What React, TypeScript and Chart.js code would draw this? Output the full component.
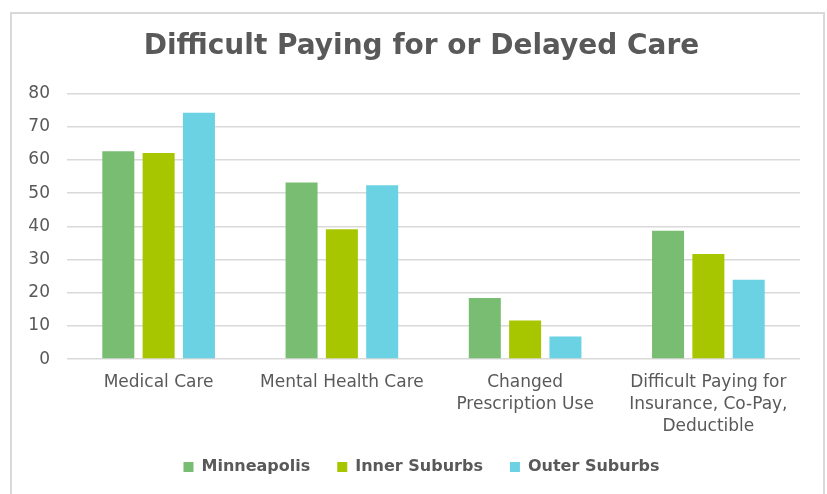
import React, { useEffect, useRef } from "react";
import { Chart, registerables } from "chart.js";

Chart.register(...registerables);

const categories: string[][] = [
  ["Medical Care"],
  ["Mental Health Care"],
  ["Changed", "Prescription Use"],
  ["Difficult Paying for", "Insurance, Co-Pay,", "Deductible"],
];
const minneapolis = [62.6, 53.2, 18.4, 38.7];
const innerSuburbs = [62.1, 39.1, 11.6, 31.7];
const outerSuburbs = [74.2, 52.4, 6.8, 23.9];
const seriesNames = ["Minneapolis", "Inner Suburbs", "Outer Suburbs"];
const seriesColors = ["#78BD72", "#A7C600", "#6AD2E2"];
const yMax = 80;
const yStep = 10;
const titleText = "Difficult Paying for or Delayed Care";

const textColor = "#595959";
const fontFamily = "'DejaVu Sans', sans-serif";

export default function App() {
  const ref = useRef<HTMLCanvasElement | null>(null);

  useEffect(() => {
    if (!ref.current) return;
    const values = [minneapolis, innerSuburbs, outerSuburbs];
    const chart = new Chart(ref.current, {
      type: "bar",
      data: {
        labels: categories,
        datasets: seriesNames.map((name, i) => ({
          label: name,
          data: values[i],
          backgroundColor: seriesColors[i],
          borderWidth: 0,
          categoryPercentage: 0.66,
          barPercentage: 0.794,
          yAxisID: "y",
        })),
      },
      options: {
        responsive: false,
        animation: false,
        layout: { padding: { left: 27, right: 11, top: 0, bottom: 9 } },
        plugins: {
          tooltip: { enabled: false },
          title: {
            display: true,
            text: titleText,
            color: textColor,
            font: { family: fontFamily, size: 28, weight: "bold", lineHeight: 1.2 },
            padding: { top: 30, bottom: 30 },
          },
          legend: {
            position: "bottom",
            labels: {
              boxWidth: 10,
              boxHeight: 10,
              padding: 27,
              color: textColor,
              font: { family: fontFamily, size: 16, weight: "bold" },
            },
          },
        },
        scales: {
          x: {
            grid: { display: false, drawTicks: false },
            border: { display: false },
            ticks: {
              color: textColor,
              padding: 12.8,
              maxRotation: 0,
              autoSkip: false,
              font: { family: fontFamily, size: 17, lineHeight: 1.28 },
            },
            afterFit: (scale: any) => {
              scale.height = 72.9;
            },
          },
          y: {
            min: 0,
            max: yMax,
            grid: { color: "#d9d9d9", lineWidth: 1.5, drawTicks: false },
            border: { display: false },
            ticks: {
              stepSize: yStep,
              color: textColor,
              padding: 17,
              font: { family: fontFamily, size: 17 },
            },
            afterFit: (scale: any) => {
              scale.width = 40;
            },
          },
          y2: {
            position: "right",
            min: 0,
            max: yMax,
            grid: { display: false, drawTicks: false },
            border: { display: false },
            ticks: { display: false },
            afterFit: (scale: any) => {
              scale.width = 16;
            },
          },
        },
      },
    });
    return () => chart.destroy();
  }, []);

  return (
    <div
      style={{
        position: "fixed",
        left: 0,
        top: 0,
        width: 827,
        height: 494,
        overflow: "hidden",
        background: "#ffffff",
      }}
    >
      <canvas
        ref={ref}
        width={827}
        height={494}
        style={{ position: "absolute", left: 0, top: 0, width: 827, height: 494 }}
      />
      <div
        style={{
          position: "absolute",
          left: 10,
          top: 12,
          width: 815,
          height: 520,
          border: "2px solid #d9d9d9",
          boxSizing: "border-box",
          pointerEvents: "none",
        }}
      />
    </div>
  );
}
